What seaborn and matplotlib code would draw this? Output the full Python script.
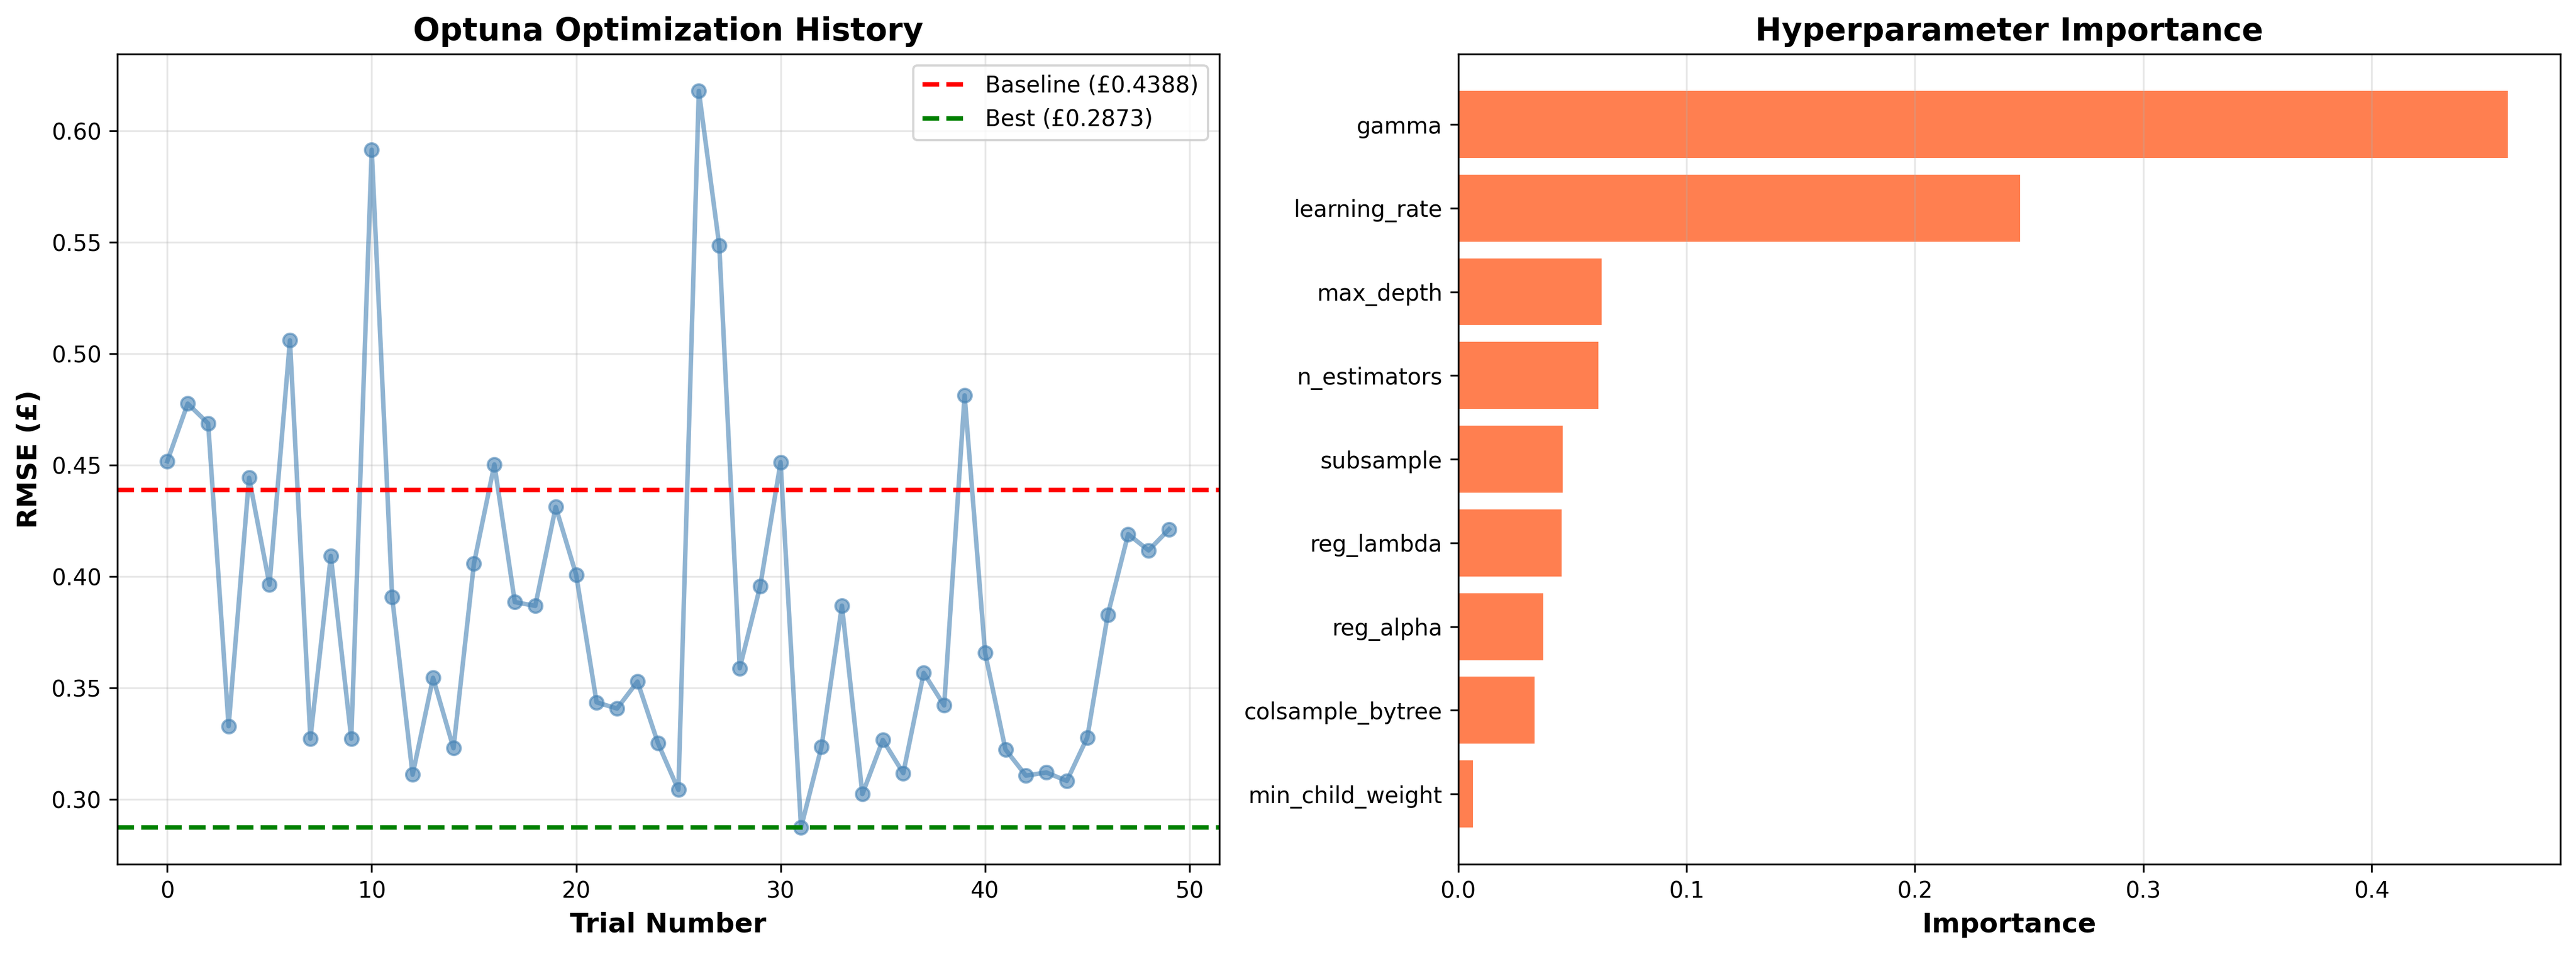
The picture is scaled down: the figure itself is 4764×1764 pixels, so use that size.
import numpy as np
import pandas as pd
import seaborn as sns
import matplotlib
matplotlib.use('Agg')
import matplotlib.pyplot as plt

# trial history (RMSE in £)
trial_rmse = [0.4517, 0.4776, 0.4687, 0.3328, 0.4443, 0.3963, 0.5060, 0.3272, 0.4092, 0.3272,
              0.5916, 0.3907, 0.3110, 0.3545, 0.3229, 0.4058, 0.4503, 0.3885, 0.3868, 0.4312,
              0.4008, 0.3435, 0.3407, 0.3528, 0.3252, 0.3042, 0.6180, 0.5486, 0.3588, 0.3956,
              0.4513, 0.2873, 0.3235, 0.3869, 0.3023, 0.3266, 0.3117, 0.3567, 0.3421, 0.4813,
              0.3658, 0.3223, 0.3106, 0.3120, 0.3082, 0.3277, 0.3827, 0.4190, 0.4117, 0.4212]
trial_number = list(range(len(trial_rmse)))
baseline_rmse = 0.4388
best_rmse = 0.2873

# hyperparameter importance
param_names = ["gamma", "learning_rate", "max_depth", "n_estimators", "subsample",
               "reg_lambda", "reg_alpha", "colsample_bytree", "min_child_weight"]
param_importance = [0.4595, 0.2461, 0.0629, 0.0614, 0.0458, 0.0454, 0.0373, 0.0334, 0.0065]

hist_df = pd.DataFrame({"trial": trial_number, "rmse": trial_rmse})
imp_df = pd.DataFrame({"param": param_names, "importance": param_importance})

fig, axes = plt.subplots(1, 2, figsize=(16, 6))

# left: optimisation history
ax = axes[0]
sns.lineplot(data=hist_df, x="trial", y="rmse", ax=ax, color="steelblue",
             marker="o", linewidth=2, markersize=6, alpha=0.6,
             markeredgecolor="steelblue", markeredgewidth=1, errorbar=None)
ax.axhline(baseline_rmse, color="red", linestyle="--", linewidth=2,
           label=f"Baseline (£{baseline_rmse:.4f})")
ax.axhline(best_rmse, color="green", linestyle="--", linewidth=2,
           label=f"Best (£{best_rmse:.4f})")
ax.set_xlabel("Trial Number", fontsize=12, fontweight="bold")
ax.set_ylabel("RMSE (£)", fontsize=12, fontweight="bold")
ax.set_title("Optuna Optimization History", fontsize=14, fontweight="bold")
ax.legend(loc="upper right")
ax.grid(True, alpha=0.3)

# right: importance
ax = axes[1]
sns.barplot(data=imp_df, x="importance", y="param", ax=ax, color="coral",
            saturation=1, width=0.8)
ax.set_autoscaley_on(True)
ax.margins(y=0.05)
ax.autoscale_view()
ax.set_xlabel("Importance", fontsize=12, fontweight="bold")
ax.set_ylabel("")
ax.set_title("Hyperparameter Importance", fontsize=14, fontweight="bold")
ax.grid(True, axis="x", alpha=0.3)

plt.tight_layout()
plt.savefig("out.png", dpi=300, bbox_inches="tight")
plt.close()
